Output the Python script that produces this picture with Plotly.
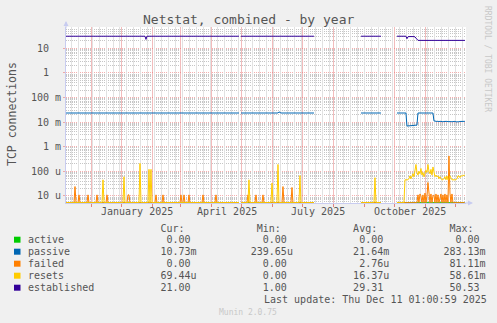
import numpy as np
import pandas as pd
import plotly.graph_objects as go

# ---------------- data ----------------
START = "2024-11-06"
END = "2025-12-11 01:00"
N_DAYS = 400
days = pd.date_range(START, periods=N_DAYS, freq="D")

# periods without data
GAPS = [("2025-04-29", "2025-04-29"), ("2025-07-13", "2025-08-27"), ("2025-09-18", "2025-10-02")]

# established connections
EST_BASE = 31.0
est_dates = ["2025-01-25", "2025-06-07", "2025-09-12"]
est_values = [23.0, 33.0, 29.0]
est_run_start = "2025-10-13"
est_run = [24.5, 29.5, 30.0, 30.5, 30.0, 30.5, 30.0, 30.0, 29.0, 26.0, 22.5]
est_tail_start = "2025-10-24"
EST_TAIL = 21.0

# passive opens
PAS_BASE = 0.0234
pas_dates = ["2025-06-07"]
pas_values = [0.026]
pas_low_start = "2025-10-13"
pas_low = [0.0069, 0.0069, 0.0070, 0.0070, 0.0070, 0.0071, 0.0072, 0.0073, 0.0074, 0.0075, 0.0075]
pas_tail_start = "2025-11-09"
pas_tail = [0.0112, 0.0108, 0.0110, 0.0106, 0.0109, 0.0104, 0.0108, 0.0105,
            0.0107, 0.0103, 0.0106, 0.0109, 0.0105, 0.0107, 0.0104, 0.0106,
            0.0108, 0.0105, 0.0103, 0.0106, 0.0104, 0.0107, 0.0102, 0.0100,
            0.0101, 0.0103, 0.0106, 0.0108, 0.0107, 0.0108, 0.0107, 0.01073]

# failed connection attempts
failed_dates = ["2024-11-15", "2024-11-19", "2024-11-28", "2024-12-07", "2024-12-17",
                "2025-01-07", "2025-01-08", "2025-02-04", "2025-02-11", "2025-03-01",
                "2025-03-04", "2025-03-09", "2025-03-23", "2025-04-05", "2025-05-07",
                "2025-05-15", "2025-05-22", "2025-06-11", "2025-06-20"]
failed_values = [2.4e-5, 1.1e-5, 1.1e-5, 1.1e-5, 1.1e-5,
                 1.1e-5, 1.1e-5, 1.1e-5, 1.1e-5, 1.1e-5,
                 1.1e-5, 1.1e-5, 1.1e-5, 1.1e-5, 1.1e-5,
                 1.1e-5, 1.1e-5, 2.4e-5, 2.2e-5]
failed_run_start = "2025-10-24"
failed_run = [1.1e-5, 0, 1.2e-5, 1.0e-5, 0, 1.1e-5, 0, 1.3e-5, 0, 1.0e-5,
              3.5e-5, 1.1e-5, 0, 1.2e-5, 0, 1.0e-5, 1.1e-5, 0, 1.2e-5, 0,
              1.1e-5, 0, 1.0e-5, 1.2e-5, 0, 1.1e-5, 0, 1.2e-5, 0, 1.1e-5,
              0, 4.2e-4, 1.3e-5, 0, 1.2e-5, 0]

# connection resets
resets_dates = ["2024-12-13", "2025-01-03", "2025-01-19", "2025-01-28", "2025-01-30",
                "2025-05-08", "2025-05-31", "2025-06-06", "2025-06-28", "2025-09-11"]
resets_values = [4.5e-5, 6.0e-5, 2.1e-4, 1.2e-4, 1.2e-4,
                 4.5e-5, 3.3e-5, 1.9e-4, 6.7e-5, 5.5e-5]
resets_run_start = "2025-10-11"
resets_run = [4.5e-5, 4.5e-5, 4.5e-5, 4.5e-5, 5.0e-5, 6.5e-5, 5.0e-5, 6.0e-5, 8.0e-5, 6.0e-5,
              1.2e-4, 1.9e-4, 9.0e-5, 7.0e-5, 1.0e-4, 8.0e-5, 1.3e-4, 7.0e-5, 9.0e-5, 6.0e-5,
              8.0e-5, 1.1e-4, 9.0e-5, 1.9e-4, 1.0e-4, 8.0e-5, 1.2e-4, 7.0e-5, 1.5e-4, 8.0e-5,
              6.0e-5, 7.0e-5, 6.0e-5, 6.5e-5, 5.0e-5, 6.0e-5, 5.0e-5, 4.5e-5, 4.5e-5, 5.0e-5,
              6.0e-5, 4.5e-5, 6.5e-5, 4.5e-5, 5.0e-5, 6.5e-5, 5.0e-5, 4.5e-5, 4.5e-5, 4.5e-5,
              4.5e-5, 4.5e-5, 5.0e-5, 6.5e-5, 6.5e-5, 5.5e-5, 6.5e-5, 6.5e-5, 6.5e-5, 7.0e-5,
              6.944e-5]

# legend table
legend_names = ["active", "passive", "failed", "resets", "established"]
legend_colors = ["#00CC00", "#0066B3", "#FF8000", "#FFCC00", "#330099"]
legend_cur = ["0.00", "10.73m", "0.00", "69.44u", "21.00"]
legend_min = ["0.00", "239.65u", "0.00", "0.00", "1.00"]
legend_avg = ["0.00", "21.64m", "2.76u", "16.37u", "29.31"]
legend_max = ["0.00", "283.13m", "81.11m", "58.61m", "50.53"]

tick_vals = [1e-5, 1e-4, 1e-3, 1e-2, 1e-1, 1, 10]
tick_text = ["10 u", "100 u", "1 m", "10 m", "100 m", "1  ", "10  "]
month_label_vals = ["2025-01-16", "2025-04-16", "2025-07-16", "2025-10-16"]
month_label_text = ["January 2025", "April 2025", "July 2025", "October 2025"]

# ---------------- build series ----------------
Y_RANGE = [-5.289, 1.866]
FLOOR = 10 ** (Y_RANGE[0] + 0.012)


def series(base):
    return pd.Series(float(base), index=days)


def put_points(s, dates, values):
    s.loc[pd.to_datetime(dates)] = values


def put_run(s, start, values):
    s.loc[pd.date_range(start, periods=len(values), freq="D")] = values


def put_gaps(s):
    for a, b in GAPS:
        s.loc[a:b] = np.nan
    return s


active = put_gaps(series(0.0))

passive = series(PAS_BASE)
put_points(passive, pas_dates, pas_values)
put_run(passive, pas_low_start, pas_low)
put_run(passive, pas_tail_start, pas_tail)
put_gaps(passive)

failed = series(0.0)
put_points(failed, failed_dates, failed_values)
put_run(failed, failed_run_start, failed_run)
put_gaps(failed)

resets = series(0.0)
put_points(resets, resets_dates, resets_values)
put_run(resets, resets_run_start, resets_run)
put_gaps(resets)

established = series(EST_BASE)
put_points(established, est_dates, est_values)
put_run(established, est_run_start, est_run)
established.loc[est_tail_start:] = EST_TAIL
put_gaps(established)

# ---------------- figure ----------------
W, H = 497, 323
L, R, T, B = 66, 466, 27, 203
FONT = "DejaVu Sans Mono"
TXT = "#555555"
NB = "\u00a0"


def px(x):
    return (x - L) / (R - L)


def py(y):
    return (B - y) / (B - T)


x_str = [d.strftime("%Y-%m-%d") for d in days]

fig = go.Figure()
for name, s, col in zip(legend_names, [active, passive, failed, resets, established], legend_colors):
    yv = [None if np.isnan(v) else float(v) for v in s.clip(lower=FLOOR).values]
    fig.add_trace(go.Scatter(x=x_str, y=yv, mode="lines", name=name,
                             line=dict(color=col, width=1), connectgaps=False,
                             showlegend=False, hoverinfo="skip"))
# invisible helper so the weekly grid axis is drawn
fig.add_trace(go.Scatter(x=[x_str[0]], y=[1], xaxis="x2", mode="markers",
                         marker=dict(opacity=0), showlegend=False, hoverinfo="skip"))

minor_y = [k * 10.0 ** e for e in range(-6, 2) for k in range(2, 10)]

MAJ = "rgba(235,110,110,0.55)"
MIN = "rgba(150,150,150,0.55)"
MAJ_X = "#f2bcbc"
MIN_X = "#e2e2e2"
AX = "#c8ccf0"

fig.update_layout(
    width=W, height=H, autosize=False,
    margin=dict(l=L, r=W - R, t=T, b=H - B, pad=0),
    paper_bgcolor="#F0F0F0", plot_bgcolor="#FFFFFF",
    font=dict(family=FONT, size=10, color=TXT),
    xaxis=dict(type="date", range=[START, END],
               tickmode="linear", tick0="2024-12-01", dtick="M1", showticklabels=False,
               showgrid=True, gridcolor=MAJ_X, gridwidth=1,
               ticks="outside", ticklen=3, tickcolor="#e08080", tickwidth=1,
               showline=True, linecolor=AX, linewidth=1, zeroline=False, fixedrange=True),
    xaxis2=dict(type="date", range=[START, END], overlaying="x", anchor="y", side="bottom",
                tickmode="linear", tick0="2024-11-11", dtick=7 * 86400000, showticklabels=False,
                showgrid=True, gridcolor=MIN_X, gridwidth=1,
                ticks="", showline=False, zeroline=False, fixedrange=True),
    yaxis=dict(type="log", range=Y_RANGE,
               tickmode="array", tickvals=tick_vals,
               ticktext=[t.replace(" ", NB) for t in tick_text],
               showgrid=True, gridcolor=MAJ, gridwidth=1, griddash="1px,1px",
               ticks="outside", ticklen=2, tickcolor=MAJ,
               minor=dict(tickvals=minor_y, showgrid=True, gridcolor=MIN, gridwidth=1,
                          griddash="1px,1px", ticks=""),
               showline=True, linecolor=AX, linewidth=1, zeroline=False,
               tickfont=dict(family=FONT, size=10, color=TXT), fixedrange=True),
)

ann = []
# month labels placed through the x axis scale
for v, t in zip(month_label_vals, month_label_text):
    ann.append(dict(text=t, x=v, xref="x", y=py(212), yref="paper",
                    xanchor="center", yanchor="middle", showarrow=False,
                    font=dict(family=FONT, size=10, color=TXT)))
ann.append(dict(text="Netstat, combined - by year", x=px(248), y=py(19), xref="paper", yref="paper",
                xanchor="center", yanchor="middle", showarrow=False,
                font=dict(family=FONT, size=13, color=TXT)))
ann.append(dict(text="TCP connections", x=px(12), y=py(114), xref="paper", yref="paper",
                xanchor="center", yanchor="middle", textangle=-90, showarrow=False,
                font=dict(family=FONT, size=11.5, color=TXT)))
ann.append(dict(text="RRDTOOL / TOBI OETIKER", x=px(487), y=py(59), xref="paper", yref="paper",
                xanchor="center", yanchor="middle", textangle=90, showarrow=False,
                font=dict(family=FONT, size=8, color="#c8c8c8")))
ann.append(dict(text="Munin 2.0.75", x=px(248), y=py(312), xref="paper", yref="paper",
                xanchor="center", yanchor="middle", showarrow=False,
                font=dict(family=FONT, size=8, color="#c8c8c8")))


def field(v):
    if v[-1].isalpha():
        return v[:-1].rjust(6) + v[-1]
    return v.rjust(6) + " "


header = " " * 22 + "Cur:" + " " * 12 + "Min:" + " " * 12 + "Avg:" + " " * 12 + "Max:"
ann.append(dict(text=header.replace(" ", NB), x=px(26.3), y=py(228), xref="paper", yref="paper",
                xanchor="left", yanchor="middle", showarrow=False,
                font=dict(family=FONT, size=10, color=TXT)))
row_y = [239.7, 251.7, 263.7, 275.7, 287.7]
for i, name in enumerate(legend_names):
    line = name.ljust(21)
    for col in (legend_cur, legend_min, legend_avg, legend_max):
        line += field(col[i]) + " " * 9
    ann.append(dict(text=line.rstrip().replace(" ", NB), x=px(26.3), y=py(row_y[i]),
                    xref="paper", yref="paper", xanchor="left", yanchor="middle",
                    showarrow=False, font=dict(family=FONT, size=10, color=TXT)))
ann.append(dict(text="Last update: Thu Dec 11 01:00:59 2025".replace(" ", NB), x=px(261.5), y=py(299.7),
                xref="paper", yref="paper", xanchor="left", yanchor="middle", showarrow=False,
                font=dict(family=FONT, size=10, color=TXT)))
# axis arrows
ann.append(dict(x=px(66), y=py(21), ax=0, ay=9, xref="paper", yref="paper",
                axref="pixel", ayref="pixel", text="", showarrow=True, arrowhead=2,
                arrowsize=1, arrowwidth=1, arrowcolor=AX))
ann.append(dict(x=px(473), y=py(203), ax=-10, ay=0, xref="paper", yref="paper",
                axref="pixel", ayref="pixel", text="", showarrow=True, arrowhead=2,
                arrowsize=1, arrowwidth=1, arrowcolor=AX))
fig.update_layout(annotations=ann)

shapes = []
for i, c in enumerate(legend_colors):
    shapes.append(dict(type="rect", xref="paper", yref="paper",
                       x0=px(14), x1=px(20.5), y0=py(row_y[i] + 3), y1=py(row_y[i] - 3),
                       fillcolor=c, line=dict(width=0)))
fig.update_layout(shapes=shapes)

fig.write_html("out.html")
